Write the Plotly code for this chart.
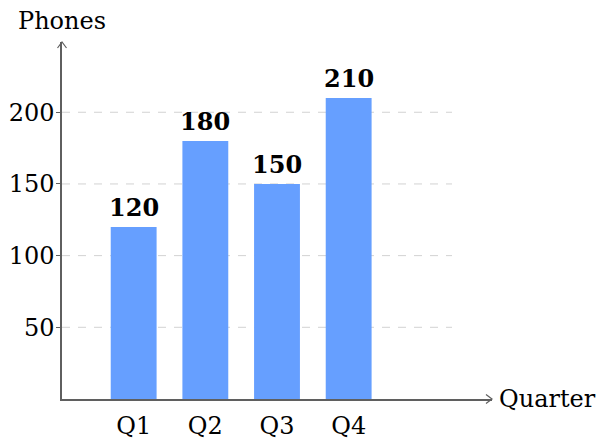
import plotly.graph_objects as go

quarters = ["Q1", "Q2", "Q3", "Q4"]
phones = [120, 180, 150, 210]
y_ticks = [50, 100, 150, 200]

W, H = 603, 443
L, R, T, B = 62, 111, 42, 43.5
pw = W - L - R
ph = H - T - B

FONT = "DejaVu Serif"
AXIS_COLOR = "#5f5f5f"
BAR_COLOR = "#669fff"

xpos = list(range(len(quarters)))

fig = go.Figure()
fig.add_trace(go.Bar(
    x=xpos, y=phones, width=0.64, marker=dict(color=BAR_COLOR, line=dict(width=0)),
    hoverinfo="skip",
))

shapes = []
grid_end = -1 + (452 - L) / (pw / 6.0)
for v in y_ticks:
    shapes.append(dict(type="line", xref="x", yref="y", x0=-1, x1=grid_end, y0=v, y1=v,
                       line=dict(color="#d2d2d2", width=1, dash="8px,8px"), layer="below"))
# arrow heads (decoration)
ax_len, ax_w = 6 / pw, 4.5 / ph
shapes.append(dict(type="path", xref="paper", yref="paper",
                   path=f"M {1-ax_len},{-ax_w} L 1,0 L {1-ax_len},{ax_w}",
                   line=dict(color=AXIS_COLOR, width=1.2)))
ay_len, ay_w = 6 / ph, 4.5 / pw
shapes.append(dict(type="path", xref="paper", yref="paper",
                   path=f"M {-ay_w},{1-ay_len} L 0,1 L {ay_w},{1-ay_len}",
                   line=dict(color=AXIS_COLOR, width=1.2)))

annotations = [
    dict(text="Quarter", xref="paper", yref="paper", x=1, y=0, xanchor="left",
         yanchor="middle", xshift=5, showarrow=False, font=dict(family=FONT, size=24)),
    dict(text="Phones", xref="paper", yref="paper", x=0, y=1, xanchor="center",
         yanchor="bottom", yshift=5, showarrow=False, font=dict(family=FONT, size=24)),
]
for xp, v in zip(xpos, phones):
    annotations.append(dict(text=f"<b>{v}</b>", x=xp, y=v, xref="x", yref="y",
                            xanchor="center", yanchor="bottom", yshift=3, showarrow=False,
                            font=dict(family=FONT, size=24, color="black")))

fig.update_layout(
    width=W, height=H, margin=dict(l=L, r=R, t=T, b=B, pad=0, autoexpand=False),
    paper_bgcolor="white", plot_bgcolor="white",
    showlegend=False, shapes=shapes, annotations=annotations,
    font=dict(family=FONT, size=24, color="black"),
    xaxis=dict(range=[-1, 5], tickvals=xpos, ticktext=quarters, showgrid=False,
               zeroline=False, showline=True, linecolor=AXIS_COLOR, linewidth=1.5,
               ticks="", tickfont=dict(family=FONT, size=24, color="black"),
               ticklabelstandoff=4, automargin=False),
    yaxis=dict(range=[0, 249], tickvals=y_ticks, showgrid=False, zeroline=False,
               showline=True, linecolor=AXIS_COLOR, linewidth=1.5,
               ticks="outside", ticklen=4, tickcolor=AXIS_COLOR, tickwidth=1,
               tickfont=dict(family=FONT, size=24, color="black"),
               ticklabelstandoff=-3, automargin=False),
)

fig.write_html("out.html")
